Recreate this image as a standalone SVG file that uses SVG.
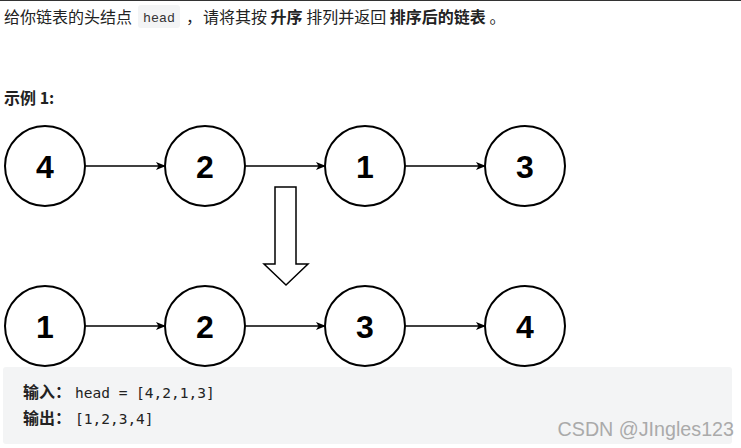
<svg xmlns="http://www.w3.org/2000/svg" width="741" height="448" viewBox="0 0 741 448">
<defs>
<style>
.t{font-family:"Noto Sans CJK SC","Liberation Sans",sans-serif;font-size:16px;fill:#222}
.b{font-weight:bold}
.n circle{fill:#fff;stroke:#000;stroke-width:2}
.n text{font-family:"Liberation Sans",Arial,sans-serif;font-weight:bold;font-size:32px;text-anchor:middle;fill:#000}
.e{stroke:#000;stroke-width:1.5;fill:none;marker-end:url(#ah)}
.m{font-family:"DejaVu Sans Mono",monospace;font-size:14.5px;fill:#222}
.c{font-family:"Noto Sans CJK SC",sans-serif;font-size:16px;font-weight:bold;fill:#222}
</style>
<marker id="ah" markerWidth="10" markerHeight="8" refX="9" refY="4" orient="auto" markerUnits="userSpaceOnUse">
<path d="M0,0 L10,4 L0,8 L2.5,4 Z" fill="#000"/>
</marker>
</defs>
<rect width="741" height="448" fill="#fff"/>
<line x1="0" y1="0.5" x2="741" y2="0.5" stroke="#333" stroke-width="1"/>
<g id="intro">
<text class="t" x="4" y="23">给你链表的头结点</text>
<rect x="138" y="5" width="42" height="23" rx="3" fill="#f3f4f5"/>
<text x="143" y="22" font-family="'Liberation Mono',monospace" font-size="13.3" fill="#333">head</text>
<text class="t" x="186" y="23">，</text>
<text class="t" x="203" y="23" font-size="15.3">请将其按 <tspan class="b">升序</tspan> 排列并返回 <tspan class="b">排序后的链表</tspan> 。</text>
<text class="t b" x="4" y="104">示例 1:</text>
</g>
<g id="connectors">
<line class="e" x1="85" y1="166" x2="165" y2="166"/>
<line class="e" x1="245" y1="166" x2="325" y2="166"/>
<line class="e" x1="405" y1="166" x2="485" y2="166"/>
<line class="e" x1="85" y1="326" x2="165" y2="326"/>
<line class="e" x1="245" y1="326" x2="325" y2="326"/>
<line class="e" x1="405" y1="326" x2="485" y2="326"/>
<path d="M275,187 L296,187 L296,264 L308,264 L286,285 L264,264 L275,264 Z" fill="#fff" stroke="#000" stroke-width="1.5"/>
</g>
<g id="a4" class="n"><circle cx="45" cy="166" r="40"/><text x="45" y="178">4</text></g>
<g id="a2" class="n"><circle cx="205" cy="166" r="40"/><text x="205" y="178">2</text></g>
<g id="a1" class="n"><circle cx="365" cy="166" r="40"/><text x="365" y="178">1</text></g>
<g id="a3" class="n"><circle cx="525" cy="166" r="40"/><text x="525" y="178">3</text></g>
<g id="b1" class="n"><circle cx="45" cy="326" r="40"/><text x="45" y="338">1</text></g>
<g id="b2" class="n"><circle cx="205" cy="326" r="40"/><text x="205" y="338">2</text></g>
<g id="b3" class="n"><circle cx="365" cy="326" r="40"/><text x="365" y="338">3</text></g>
<g id="b4" class="n"><circle cx="525" cy="326" r="40"/><text x="525" y="338">4</text></g>
<g id="example">
<rect x="3" y="367" width="729" height="77" rx="3" fill="#f3f4f5"/>
<text class="c" x="23" y="398">输入：</text>
<text class="m" x="75" y="398">head = [4,2,1,3]</text>
<text class="c" x="23" y="424">输出：</text>
<text class="m" x="75" y="424">[1,2,3,4]</text>
</g>
<text x="734" y="436" text-anchor="end" font-family="'Liberation Sans',Arial,sans-serif" font-size="19.7" fill="#aaa">CSDN @JIngles123</text>
</svg>
